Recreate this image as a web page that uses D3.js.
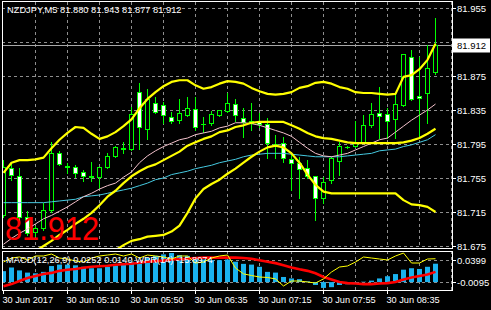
<!DOCTYPE html>
<html><head><meta charset="utf-8">
<script src="https://cdn.jsdelivr.net/npm/d3@7"></script>
<style>html,body{margin:0;padding:0;background:#000;overflow:hidden}svg{display:block}text{font-family:"Liberation Sans",Arial,sans-serif}</style>
</head><body><svg id="c" width="491" height="310"></svg>
<script>
const titleText = "NZDJPY,M5  81.880 81.943 81.877 81.912";
const open  = [81.711,81.767,81.757,81.709,81.691,81.696,81.717,81.784,81.769,81.768,81.762,81.756,81.756,81.768,81.781,81.789,81.789,81.856,81.813,81.843,81.841,81.827,81.823,81.829,81.836,81.819,81.820,81.829,81.834,81.842,81.826,81.820,81.822,81.819,81.795,81.796,81.777,81.773,81.767,81.757,81.731,81.753,81.775,81.791,81.793,81.796,81.817,81.831,81.830,81.824,81.841,81.897,81.851,81.855,81.880];
const high  = [81.776,81.773,81.767,81.716,81.699,81.726,81.797,81.787,81.773,81.770,81.764,81.774,81.768,81.784,81.793,81.797,81.839,81.867,81.860,81.850,81.844,81.833,81.848,81.850,81.850,81.827,81.834,81.835,81.855,81.848,81.837,81.843,81.831,81.826,81.806,81.803,81.784,81.780,81.776,81.757,81.756,81.780,81.797,81.793,81.822,81.829,81.843,81.862,81.837,81.853,81.901,81.906,81.897,81.911,81.943];
const low   = [81.709,81.753,81.703,81.688,81.687,81.694,81.715,81.770,81.761,81.756,81.751,81.751,81.743,81.767,81.780,81.784,81.788,81.789,81.801,81.831,81.820,81.820,81.820,81.828,81.811,81.809,81.817,81.828,81.833,81.822,81.803,81.811,81.815,81.779,81.779,81.774,81.741,81.731,81.755,81.706,81.726,81.749,81.759,81.790,81.791,81.796,81.815,81.802,81.802,81.802,81.840,81.847,81.803,81.820,81.877];
const close = [81.768,81.759,81.709,81.690,81.696,81.717,81.784,81.771,81.768,81.761,81.757,81.757,81.768,81.781,81.791,81.790,81.830,81.815,81.848,81.833,81.829,81.822,81.831,81.837,81.815,81.818,81.830,81.835,81.843,81.829,81.821,81.822,81.819,81.796,81.795,81.779,81.773,81.766,81.757,81.731,81.750,81.779,81.793,81.791,81.796,81.817,81.830,81.828,81.822,81.842,81.901,81.848,81.849,81.884,81.912];
const bbUpper = [81.761,81.773,81.776,81.776,81.777,81.779,81.790,81.800,81.808,81.815,81.814,81.807,81.801,81.804,81.809,81.816,81.824,81.837,81.848,81.856,81.863,81.868,81.870,81.870,81.864,81.860,81.862,81.866,81.869,81.868,81.866,81.861,81.857,81.854,81.853,81.854,81.856,81.861,81.863,81.867,81.868,81.866,81.862,81.860,81.856,81.855,81.855,81.854,81.853,81.854,81.874,81.876,81.883,81.894,81.913];
const bbMiddle = [null,null,null,81.663,81.669,81.675,81.681,81.688,81.694,81.701,81.707,81.714,81.723,81.733,81.740,81.749,81.757,81.763,81.768,81.771,81.776,81.781,81.786,81.793,81.797,81.801,81.804,81.809,81.811,81.815,81.817,81.820,81.821,81.821,81.821,81.821,81.817,81.813,81.808,81.804,81.802,81.801,81.799,81.797,81.796,81.796,81.796,81.796,81.796,81.796,81.797,81.799,81.802,81.807,81.813];
const bbLower = [null,null,null,null,null,null,null,null,null,null,null,null,null,null,81.670,81.676,81.681,81.683,81.686,81.687,81.688,81.692,81.699,81.714,81.731,81.742,81.748,81.753,81.760,81.766,81.773,81.780,81.786,81.791,81.793,81.791,81.784,81.773,81.759,81.747,81.739,81.737,81.737,81.737,81.737,81.737,81.737,81.737,81.737,81.737,81.729,81.724,81.723,81.721,81.715];
const maPink = [81.677,81.684,81.690,81.695,81.701,81.707,81.711,81.716,81.721,81.727,81.733,81.737,81.742,81.746,81.749,81.756,81.762,81.773,81.781,81.787,81.792,81.796,81.800,81.802,81.806,81.808,81.810,81.814,81.816,81.820,81.820,81.819,81.817,81.814,81.811,81.808,81.804,81.797,81.790,81.784,81.781,81.780,81.782,81.784,81.788,81.792,81.796,81.800,81.802,81.809,81.816,81.823,81.829,81.835,81.842];
const maCyan = [81.726,81.726,81.726,81.726,81.726,81.726,81.727,81.728,81.729,81.730,81.733,81.734,81.735,81.737,81.739,81.741,81.743,81.746,81.749,81.753,81.755,81.759,81.761,81.763,81.766,81.768,81.770,81.773,81.775,81.777,81.780,81.782,81.783,81.784,81.784,81.784,81.783,81.782,81.781,81.780,81.780,81.780,81.780,81.781,81.782,81.783,81.784,81.787,81.788,81.789,81.792,81.794,81.797,81.800,81.806];
const bidPrice = 81.912;
const bigPriceText = "81.912";
const priceTicks = [81.955,81.915,81.875,81.835,81.795,81.755,81.715,81.675];
const priceTickLabels = ["81.955","","81.875","81.835","81.795","81.755","81.715","81.675"];
const timeTickBars = [0,8,16,24,32,40,48];
const timeLabels = ["30 Jun 2017","30 Jun 05:10","30 Jun 05:50","30 Jun 06:35","30 Jun 07:15","30 Jun 07:55","30 Jun 08:35"];
const macdHist = [0.015,0.020,0.016,0.013,0.012,0.014,0.022,0.024,0.024,0.023,0.021,0.019,0.019,0.021,0.023,0.024,0.028,0.029,0.033,0.036,0.038,0.0399,0.037,0.036,0.034,0.031,0.030,0.030,0.031,0.028,0.025,0.024,0.021,0.014,0.013,0.007,0.005,0.004,0.001,-0.004,-0.008,-0.007,-0.004,-0.003,-0.001,0.0005,0.002,0.005,0.008,0.011,0.017,0.019,0.018,0.021,0.0252];
const macdSignal = [-0.0056,-0.0028,0.0014,0.0056,0.0084,0.011,0.0126,0.0154,0.0168,0.018,0.0196,0.021,0.0217,0.0224,0.0238,0.0245,0.0252,0.0266,0.028,0.0287,0.0294,0.031,0.0315,0.032,0.033,0.0336,0.0336,0.0336,0.0336,0.0336,0.033,0.032,0.030,0.028,0.026,0.023,0.020,0.0175,0.0154,0.012,0.007,0.0035,0,-0.0014,-0.002,-0.0028,-0.0028,-0.002,-0.0014,0,0.0035,0.0063,0.0084,0.0105,0.014];
const wpr = [-25,-13.9,-11.1,-19.4,-8.3,-8.3,-2.8,-13.9,-16.7,-22.2,-25,-13.9,-8.3,-5.6,-2.8,-8.3,-2.8,-13.9,-5.6,-8.3,-11.1,-16.7,-8.3,-8.3,-27.8,-25,-13.9,-8.3,-5.6,-41.7,-58,-62.5,-66.7,-68,-72,-91.7,-77.8,-77.8,-80.6,-83.3,-72,-52.8,-38.9,-36.1,-25,-11.1,-13.9,-16.7,-19.4,-8.3,0,-27.8,-27.8,-16.7,-15.9];
const macdMax = 0.0399, macdMin = -0.0095;
const macdMaxLabel = "0.0399", macdMinLabel = "-0.0095";
const wprLevels = [-20,-80];
const macdText = "MACD(12,26,9) 0.0252 0.0140 WPR(14) -15.8974";

const svg = d3.select("#c");
const L = 2, R = 452, T = 2, B = 248, MT = 251, MB = 290;
const n = close.length;
const x = d3.scaleLinear().domain([0, 54]).range([3.5, 435.5]);
const y = d3.scaleLinear().domain([81.675, 81.955]).range([246, 8]);
const ym = d3.scaleLinear().domain([macdMin, macdMax]).range([289, 253]);
const yw = d3.scaleLinear().domain([-100, 0]).range([289, 253]);
const crisp = v => Math.round(v) + 0.5;
const GRID = "#8e8e8e";

svg.append("rect").attr("width", 491).attr("height", 310).attr("fill", "#000");
const defs = svg.append("defs");
defs.append("clipPath").attr("id", "cm").append("rect").attr("x", L + 1).attr("y", T + 0).attr("width", R - L - 1).attr("height", B - T);
defs.append("clipPath").attr("id", "cs").append("rect").attr("x", L + 1).attr("y", MT + 1).attr("width", R - L - 1).attr("height", MB - MT - 1);

// grid
const gridBars = d3.range(4, 57, 4);
const g = svg.append("g").attr("stroke", GRID).attr("stroke-dasharray", "3,3").attr("stroke-width", 1);
gridBars.forEach(b => {
  const xx = Math.floor(x(b)) + 0.5;
  g.append("line").attr("x1", xx).attr("x2", xx).attr("y1", T).attr("y2", B);
  g.append("line").attr("x1", xx).attr("x2", xx).attr("y1", MT).attr("y2", MB);
});
priceTicks.forEach(p => {
  g.append("line").attr("x1", L).attr("x2", R).attr("y1", crisp(y(p))).attr("y2", crisp(y(p)));
});
wprLevels.forEach(w => {
  g.append("line").attr("x1", L).attr("x2", R).attr("y1", crisp(yw(w))).attr("y2", crisp(yw(w)));
});

// bid line
svg.append("line").attr("x1", L).attr("x2", R).attr("y1", crisp(y(bidPrice))).attr("y2", crisp(y(bidPrice))).attr("stroke", "#a8a8a8");

// candles
const main = svg.append("g").attr("clip-path", "url(#cm)");
const idx = d3.range(n);
main.selectAll("line.w").data(idx).join("line")
  .attr("x1", i => Math.floor(x(i)) + 0.5).attr("x2", i => Math.floor(x(i)) + 0.5)
  .attr("y1", i => Math.round(y(high[i]))).attr("y2", i => Math.round(y(low[i])) + 1)
  .attr("stroke", "#00ff00");
main.selectAll("rect.b").data(idx).join("rect")
  .attr("x", i => Math.floor(x(i)) - 2 + 0.5)
  .attr("y", i => Math.round(y(Math.max(open[i], close[i]))) + 0.5)
  .attr("width", 4)
  .attr("height", i => Math.max(0.01, Math.round(y(Math.min(open[i], close[i]))) - Math.round(y(Math.max(open[i], close[i])))))
  .attr("fill", i => close[i] > open[i] ? "#000" : "#fff")
  .attr("stroke", "#00ff00");

// indicator lines
const line = d3.line().defined(d => d != null).x((d, i) => x(i)).y(d => y(d));
main.append("path").datum(maCyan).attr("d", line).attr("fill", "none").attr("stroke", "#45c9e0").attr("stroke-width", 1);
main.append("path").datum(maPink).attr("d", line).attr("fill", "none").attr("stroke", "#f4c2cc").attr("stroke-width", 1);
[bbUpper, bbMiddle, bbLower].forEach(s => {
  main.append("path").datum(s).attr("d", line).attr("fill", "none").attr("stroke", "#ffff00").attr("stroke-width", 2.2).attr("stroke-linejoin", "round");
});

// big price text
main.append("text").attr("x", 5).attr("y", 240).attr("fill", "#ff0000").attr("font-size", 34).attr("textLength", 94).attr("lengthAdjust", "spacingAndGlyphs").text(bigPriceText);

// title
svg.append("text").attr("x", 7).attr("y", 12.5).attr("fill", "#fff").attr("font-size", 9.3).text(titleText);

// MACD window
const sub = svg.append("g").attr("clip-path", "url(#cs)");
const z = ym(0);
sub.selectAll("rect.h").data(idx).join("rect")
  .attr("x", i => Math.floor(x(i)) - 2)
  .attr("y", i => Math.min(ym(macdHist[i]), z))
  .attr("width", 5)
  .attr("height", i => Math.abs(ym(macdHist[i]) - z))
  .attr("fill", "#1ab2ee");
sub.append("path").datum(macdSignal).attr("d", d3.line().x((d, i) => x(i)).y(d => ym(d)))
  .attr("fill", "none").attr("stroke", "#ff0000").attr("stroke-width", 2.6);
sub.append("path").datum(wpr).attr("d", d3.line().x((d, i) => x(i)).y(d => yw(d)))
  .attr("fill", "none").attr("stroke", "#ffff00").attr("stroke-width", 1);
svg.append("text").attr("x", 6).attr("y", 263).attr("fill", "#fff").attr("font-size", 9.3).text(macdText);

// borders
svg.append("rect").attr("x", L + 0.5).attr("y", 1.5).attr("width", R - L).attr("height", B - 1).attr("fill", "none").attr("stroke", "#fff");
svg.append("rect").attr("x", L + 0.5).attr("y", MT + 0.5).attr("width", R - L).attr("height", MB - MT).attr("fill", "none").attr("stroke", "#fff");

// price axis
const ax = svg.append("g");
priceTicks.forEach((p, i) => {
  const yy = crisp(y(p));
  ax.append("line").attr("x1", R).attr("x2", R + 4).attr("y1", yy).attr("y2", yy).attr("stroke", "#fff");
  if (priceTickLabels[i]) ax.append("text").attr("x", R + 5).attr("y", yy + 3.5).attr("fill", "#fff").attr("font-size", 9.5).text(priceTickLabels[i]);
});
// bid box
const by = crisp(y(bidPrice));
ax.append("rect").attr("x", R + 1).attr("y", by - 7).attr("width", 37).attr("height", 14).attr("fill", "#fff");
ax.append("text").attr("x", R + 5).attr("y", by + 3.5).attr("fill", "#000").attr("font-size", 9.5).text(bidPrice.toFixed(3));

// MACD axis labels
[[macdMaxLabel, wprLevels[0]], [macdMinLabel, wprLevels[1]]].forEach(([ml, lv]) => {
  const yy = crisp(yw(lv));
  ax.append("line").attr("x1", R).attr("x2", R + 4).attr("y1", yy).attr("y2", yy).attr("stroke", "#fff");
  ax.append("text").attr("x", R + 5).attr("y", yy + 3).attr("fill", "#fff").attr("font-size", 9.5).text(ml);
});

// time axis
timeTickBars.forEach((b, i) => {
  const xx = Math.floor(x(b)) + 0.5;
  ax.append("line").attr("x1", xx).attr("x2", xx).attr("y1", MB).attr("y2", MB + 4).attr("stroke", "#fff");
  ax.append("text").attr("x", xx - 1).attr("y", 303).attr("fill", "#fff").attr("font-size", 9.2).text(timeLabels[i]);
});
</script></body></html>
